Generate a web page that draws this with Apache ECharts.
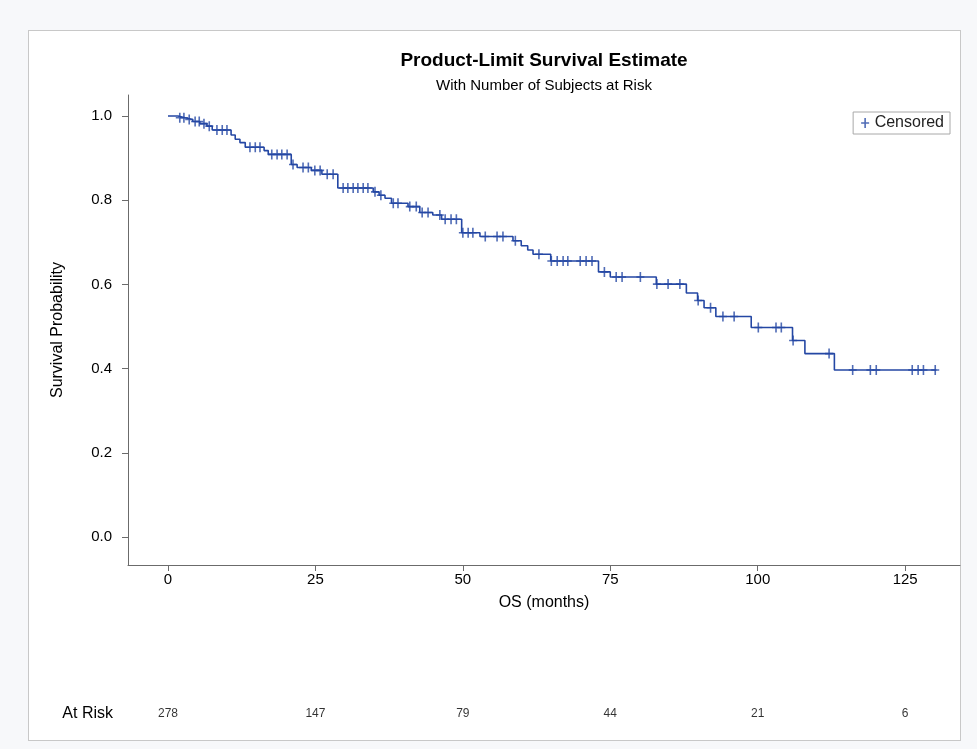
<!DOCTYPE html>
<html>
<head>
<meta charset="utf-8">
<script src="https://cdn.jsdelivr.net/npm/echarts@6/dist/echarts.min.js"></script>
<style>
  html, body { margin: 0; padding: 0; background: #f7f8fa; }
  #frame { position: absolute; left: 28px; top: 30px; width: 933px; height: 711px;
           background: #ffffff; border: 1px solid #c8c8c8; box-sizing: border-box; }
  #chart { position: absolute; left: 0; top: 0; width: 977px; height: 749px; }
</style>
</head>
<body>
<div id="frame"></div>
<div id="chart"></div>
<script>
// Kaplan-Meier step function: time of each drop (months) and survival after it
const stepTime = [0, 1.7, 2.9, 4.2, 5.4, 6.6, 7.5, 10.7, 11.4, 12.2, 13.1, 16.3, 17.0, 20.9, 21.9, 24.3, 26.1, 28.8,
  34.8, 35.8, 36.8, 37.9, 40.7, 42.7, 44.9, 46.4, 49.8, 52.9, 58.5, 59.9, 61.0, 61.9, 64.9, 73.0, 75.0, 82.8,
  87.9, 89.8, 90.9, 92.9, 98.9, 105.9, 108.0, 113.0, 130.3];
const stepSurv = [1, 0.996, 0.992, 0.987, 0.982, 0.976, 0.967, 0.955, 0.945, 0.937, 0.926, 0.918, 0.909, 0.885,
  0.878, 0.871, 0.862, 0.829, 0.820, 0.812, 0.805, 0.793, 0.785, 0.771, 0.765, 0.755, 0.723, 0.714, 0.704, 0.692,
  0.682, 0.672, 0.656, 0.630, 0.618, 0.601, 0.580, 0.562, 0.545, 0.524, 0.498, 0.467, 0.436, 0.397, 0.397];

// Censoring times (months)
const censorTime = [2.0, 2.7, 3.6, 4.6, 5.3, 6.1, 7.0, 8.3, 9.2, 10.0, 13.9, 14.8, 15.6, 17.6, 18.5, 19.3, 20.2,
  21.2, 22.9, 23.8, 24.9, 25.8, 27.0, 28.0, 29.7, 30.5, 31.4, 32.2, 33.1, 33.9, 35.1, 36.1, 38.2, 39.0, 41.0,
  42.1, 43.1, 44.1, 46.1, 47.0, 48.0, 48.9, 50.0, 50.9, 51.7, 53.8, 55.8, 56.8, 58.9, 62.9, 65.0, 66.0, 67.0,
  67.8, 69.9, 70.9, 71.9, 74.0, 76.0, 77.0, 80.1, 82.9, 84.8, 86.8, 89.9, 92.0, 94.1, 96.0, 100.1, 103.1, 104.0,
  106.0, 112.1, 116.1, 119.1, 120.1, 126.2, 127.2, 128.1, 130.1];

// Number of subjects at risk
const riskTime = [0, 25, 50, 75, 100, 125];
const riskCount = [278, 147, 79, 44, 21, 6];

// Axis tick labels
const xTicks = [0, 25, 50, 75, 100, 125];
const yTicks = [0, 0.2, 0.4, 0.6, 0.8, 1.0];

function survivalAt(t) {
  let s = stepSurv[0];
  for (let i = 0; i < stepTime.length; i++) {
    if (stepTime[i] <= t) s = stepSurv[i];
  }
  return s;
}

const curveData = stepTime.map((t, i) => [t, stepSurv[i]]);
const censorData = censorTime.map(t => [t, survivalAt(t)]);
const riskData = riskTime.map((t, i) => [t, 'At Risk', riskCount[i]]);

const BLUE = '#2447a4';
const FONT = '"Liberation Sans", Arial, sans-serif';
const PLUS = 'path://M-0.8,-5L0.8,-5L0.8,-0.8L4,-0.8L4,0.8L0.8,0.8L0.8,5L-0.8,5L-0.8,0.8L-4,0.8L-4,-0.8L-0.8,-0.8Z';
const X_MIN = -6.78, X_MAX = 134.3;

const chart = echarts.init(document.getElementById('chart'), null, { renderer: 'canvas' });

chart.setOption({
  animation: false,
  backgroundColor: 'transparent',
  textStyle: { fontFamily: FONT },
  graphic: [
    { type: 'text', x: 544, y: 51, style: { text: 'Product-Limit Survival Estimate', font: 'bold 19px ' + FONT,
      fill: '#000', textAlign: 'center' } },
    { type: 'text', x: 544, y: 78, style: { text: 'With Number of Subjects at Risk', font: '15px ' + FONT,
      fill: '#000', textAlign: 'center' } }
  ],
  legend: {
    right: 27, top: 112,
    padding: [3, 6, 3, 8],
    borderColor: '#a8a8a8', borderWidth: 1, backgroundColor: '#fff',
    itemWidth: 9, itemHeight: 10, itemGap: 8,
    textStyle: { fontSize: 16, color: '#222', fontFamily: FONT },
    data: [{ name: 'Censored', icon: PLUS }]
  },
  grid: [
    { left: 128, right: 17, top: 95, bottom: 184 },
    { left: 128, right: 17, top: 700, height: 28 }
  ],
  xAxis: [
    {
      gridIndex: 0, type: 'value', min: X_MIN, max: X_MAX,
      name: 'OS (months)', nameLocation: 'middle', nameGap: 30,
      nameTextStyle: { fontSize: 16, color: '#000', fontFamily: FONT },
      axisLine: { onZero: false, lineStyle: { color: '#6b6b6b', width: 1 } },
      axisTick: { show: true, length: 6, lineStyle: { color: '#6b6b6b' }, customValues: xTicks },
      axisLabel: { fontSize: 15, color: '#000', margin: 7, customValues: xTicks, fontFamily: FONT },
      splitLine: { show: false }
    },
    {
      gridIndex: 1, type: 'value', min: X_MIN, max: X_MAX, show: false
    }
  ],
  yAxis: [
    {
      gridIndex: 0, type: 'value', min: -0.066, max: 1.05,
      name: 'Survival Probability', nameLocation: 'middle', nameGap: 62, nameRotate: 90,
      nameTextStyle: { fontSize: 16, color: '#000', fontFamily: FONT },
      axisLine: { show: true, onZero: false, lineStyle: { color: '#6b6b6b', width: 1 } },
      axisTick: { show: true, length: 6, lineStyle: { color: '#6b6b6b' }, customValues: yTicks },
      axisLabel: { fontSize: 15, color: '#000', margin: 16, customValues: yTicks,
        formatter: v => v.toFixed(1), fontFamily: FONT },
      splitLine: { show: false }
    },
    {
      gridIndex: 1, type: 'category', data: ['At Risk'],
      axisLine: { show: false }, axisTick: { show: false }, splitLine: { show: false },
      axisLabel: { fontSize: 16, color: '#000', margin: 15, fontFamily: FONT }
    }
  ],
  series: [
    {
      name: 'Survival', type: 'line', xAxisIndex: 0, yAxisIndex: 0,
      step: 'end', data: curveData, showSymbol: false, symbol: 'none',
      lineStyle: { color: BLUE, width: 1.6 }, z: 2
    },
    {
      name: 'Censored', type: 'scatter', xAxisIndex: 0, yAxisIndex: 0,
      data: censorData, symbol: PLUS, symbolSize: [8, 10],
      itemStyle: { color: BLUE }, z: 3
    },
    {
      name: 'At Risk', type: 'scatter', xAxisIndex: 1, yAxisIndex: 1,
      data: riskData, symbolSize: 0, silent: true,
      label: { show: true, position: 'inside', formatter: p => p.value[2],
        fontSize: 12, color: '#000', fontFamily: FONT }
    }
  ]
});
</script>
</body>
</html>
